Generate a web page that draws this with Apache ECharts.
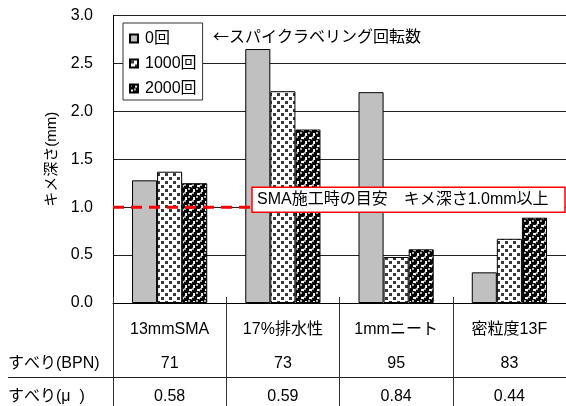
<!DOCTYPE html>
<html>
<head>
<meta charset="utf-8">
<script src="https://cdn.jsdelivr.net/npm/echarts@6/dist/echarts.min.js"></script>
<style>
  html, body { margin: 0; padding: 0; background: #fff; }
  #chart { width: 566px; height: 406px; }
</style>
</head>
<body>
<div id="chart"></div>
<script>
// Surface types and texture depth (mm) by spike-labelling revolutions
const categories = ['13mmSMA', '17%排水性', '1mmニート', '密粒度13F'];
const seriesNames = ['0回', '1000回', '2000回'];
const depth0 = [1.28, 2.65, 2.20, 0.32];
const depth1000 = [1.37, 2.21, 0.48, 0.67];
const depth2000 = [1.25, 1.81, 0.56, 0.89];
const yTicks = ['0.0', '0.5', '1.0', '1.5', '2.0', '2.5', '3.0'];
// Skid resistance rows under the chart
const skidBPN = [71, 73, 95, 83];
const skidMu = ['0.58', '0.59', '0.84', '0.44'];
const rowLabels = ['すべり(BPN)', 'すべり(μ  )'];
// Guide line for SMA construction
const guideValue = 1.0;
const guideText = 'SMA施工時の目安　キメ深さ1.0mm以上';
const noteText = '←スパイクラベリング回転数';
const yName = 'キメ深さ(mm)';

const FONT = "'Liberation Sans', 'Noto Sans CJK JP', sans-serif";
const CJK = "'Noto Sans CJK JP', 'Liberation Sans', sans-serif";

// Fill textures for the bars
function dotTile() {
  const c = document.createElement('canvas');
  c.width = 8; c.height = 8;
  const g = c.getContext('2d');
  g.fillStyle = '#fff'; g.fillRect(0, 0, 8, 8);
  g.fillStyle = '#3a3a3a';
  g.fillRect(1, 1, 3, 3);
  g.fillRect(5, 5, 3, 3);
  return c;
}
function ballTile() {
  const c = document.createElement('canvas');
  c.width = 8; c.height = 8;
  const g = c.getContext('2d');
  g.fillStyle = '#fff'; g.fillRect(0, 0, 8, 8);
  const balls = [[2, 2], [6, 6], [6, -2], [-2, 6], [10, 6], [6, 10], [-2, -2], [10, 10], [10, -2], [-2, 10]];
  balls.forEach(([x, y]) => {
    g.fillStyle = '#000';
    g.beginPath(); g.arc(x, y, 3.1, 0, Math.PI * 2); g.fill();
  });
  balls.forEach(([x, y]) => {
    g.fillStyle = '#fff';
    g.beginPath(); g.arc(x - 1, y - 1, 0.9, 0, Math.PI * 2); g.fill();
  });
  return c;
}

const fills = [
  '#c0c0c0',
  { image: dotTile(), repeat: 'repeat' },
  { image: ballTile(), repeat: 'repeat' }
];
const values = [depth0, depth1000, depth2000];

const chart = echarts.init(document.getElementById('chart'), null, { renderer: 'canvas' });

const option = {
  animation: false,
  backgroundColor: '#fff',
  textStyle: { fontFamily: FONT, color: '#000' },
  grid: { left: 113, right: -1, top: 15.5, bottom: 103, containLabel: false },
  legend: {
    orient: 'vertical',
    left: 123, top: 23,
    padding: [6, 6, 2, 6],
    itemGap: 6,
    itemWidth: 8, itemHeight: 8,
    backgroundColor: '#fff',
    borderColor: '#333', borderWidth: 1,
    borderRadius: 0,
    icon: 'rect',
    textStyle: { fontFamily: FONT, fontSize: 16, color: '#000', lineHeight: 19, padding: [0, 0, 0, 2] },
    data: seriesNames
  },
  xAxis: [
    {
      type: 'category',
      data: categories,
      position: 'bottom',
      axisLine: { show: true, lineStyle: { color: '#000', width: 1 } },
      axisTick: { show: true, length: 103, lineStyle: { color: '#333', width: 1 } },
      axisLabel: {
        margin: 10,
        interval: 0,
        formatter: (v, i) => `{a|${v}}\n{a|${skidBPN[i]}}\n{a|${skidMu[i]}}`,
        rich: { a: { fontFamily: FONT, fontSize: 16, color: '#000', lineHeight: 33.5 } }
      }
    },
    {
      type: 'category',
      data: categories,
      position: 'bottom',
      axisLine: { show: false },
      axisTick: { show: true, inside: true, length: 6, lineStyle: { color: '#333', width: 1 } },
      axisLabel: { show: false }
    }
  ],
  yAxis: {
    type: 'value',
    min: 0, max: 3, interval: 0.5,
    name: yName,
    nameLocation: 'middle',
    nameGap: 53,
    nameTextStyle: { fontFamily: FONT, fontSize: 15, color: '#000' },
    axisLine: { show: true, lineStyle: { color: '#000', width: 1 } },
    axisTick: { show: false },
    axisLabel: {
      margin: 20,
      fontFamily: FONT, fontSize: 16, color: '#000',
      formatter: v => yTicks[Math.round(v / 0.5)]
    },
    splitLine: { show: true, lineStyle: { color: '#222', width: 1 } }
  },
  series: seriesNames.map((name, k) => ({
    name,
    type: 'bar',
    xAxisIndex: 0,
    data: values[k],
    barGap: '0%',
    barCategoryGap: '33.6%',
    itemStyle: { color: fills[k], borderColor: '#000', borderWidth: 1 }
  }))
};

chart.setOption(option);

// Overlay: guide line with note box, annotation, table rows
const yGuide = chart.convertToPixel({ yAxisIndex: 0 }, guideValue);
const y0 = chart.convertToPixel({ yAxisIndex: 0 }, 0);
const W = 566;

chart.setOption({
  graphic: [
    {
      type: 'line', z: 10,
      shape: { x1: 113, y1: yGuide, x2: 252, y2: yGuide },
      style: { stroke: '#ff0000', lineWidth: 3, lineDash: [11, 7] }
    },
    {
      type: 'rect', z: 11,
      shape: { x: 252, y: yGuide - 20, width: 313, height: 25 },
      style: { fill: '#fff', stroke: '#ff0000', lineWidth: 1.5 }
    },
    {
      type: 'text', z: 12,
      x: 257, y: yGuide - 7.5,
      style: { text: guideText, font: `16px ${FONT}`, fill: '#000', verticalAlign: 'middle' }
    },
    {
      type: 'text', z: 12,
      x: 213, y: 36,
      style: { text: noteText, font: `16px ${CJK}`, fill: '#000', verticalAlign: 'middle' }
    },
    {
      type: 'line', z: 10,
      shape: { x1: 8, y1: y0 + 74.5, x2: W, y2: y0 + 74.5 },
      style: { stroke: '#222', lineWidth: 1 }
    },
    {
      type: 'text', z: 12,
      x: 8, y: y0 + 60.5,
      style: { text: rowLabels[0], font: `16px ${FONT}`, fill: '#000', verticalAlign: 'middle' }
    },
    {
      type: 'text', z: 12,
      x: 8, y: y0 + 94,
      style: { text: rowLabels[1], font: `16px ${FONT}`, fill: '#000', verticalAlign: 'middle' }
    }
  ]
});
</script>
</body>
</html>
